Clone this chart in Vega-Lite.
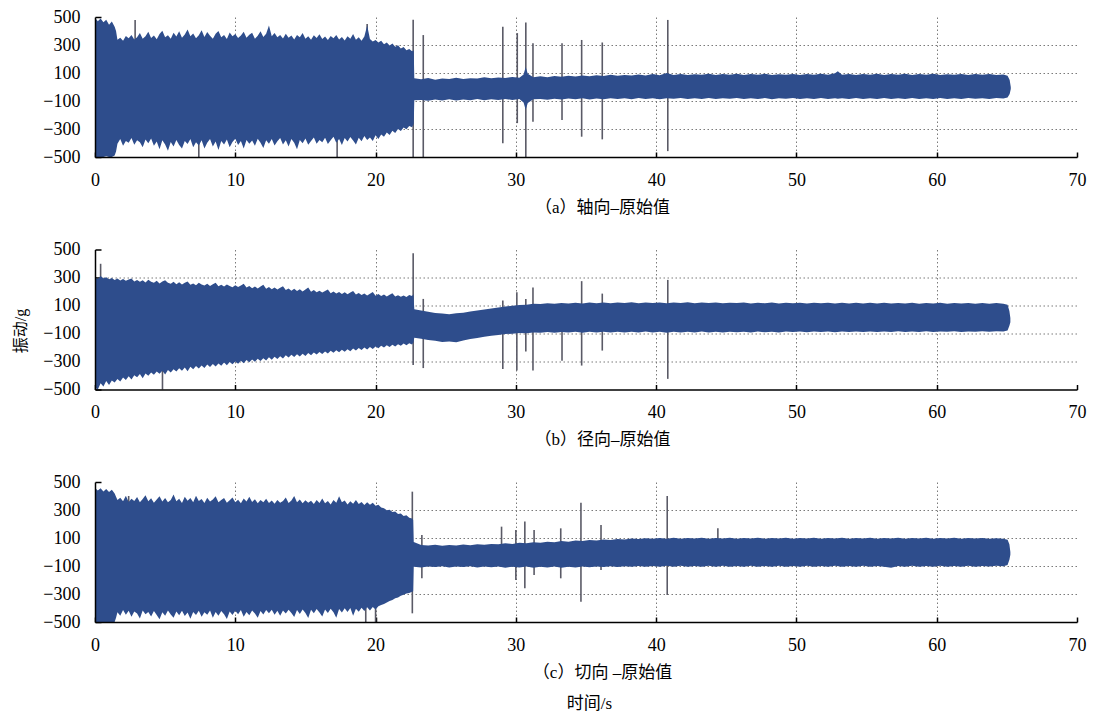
{
"$schema": "https://vega.github.io/schema/vega-lite/v6.json",
"background": "white",
"padding": {"left": 12, "top": 8, "right": 8, "bottom": 5},
"bounds": "flush",
"spacing": 92.5,
"title": {"text": "时间/s", "orient": "bottom", "anchor": "middle", "font": "Liberation Serif, Noto Sans CJK SC", "fontSize": 17, "fontWeight": "normal", "color": "#000", "offset": 16, "dx": 40},
"config": {
  "view": {"stroke": null},
  "font": "Liberation Serif, Noto Sans CJK SC",
  "axis": {
    "labelFont": "Liberation Serif, Noto Sans CJK SC",
    "labelFontSize": 18,
    "labelColor": "#000",
    "labelFlush": false,
    "titleFont": "Liberation Serif, Noto Sans CJK SC",
    "titleFontSize": 17,
    "titleFontWeight": "normal",
    "titleColor": "#000",
    "domainColor": "#000",
    "domainWidth": 1.5,
    "tickColor": "#000",
    "tickWidth": 1.5,
    "gridColor": "#7a7a7a",
    "gridDash": [1.5, 2.5],
    "gridWidth": 1
  }
},
"datasets": {
"A": [
{"t":0,"h":495,"l":-500},{"t":0.2,"h":470,"l":-500},{"t":0.4,"h":490,"l":-500},{"t":0.6,"h":462,"l":-500},{"t":0.8,"h":480,"l":-495},{"t":1.0,"h":445,"l":-500},{"t":1.2,"h":468,"l":-500},{"t":1.4,"h":430,"l":-490},{"t":1.5,"h":400,"l":-460},
{"t":1.6,"h":338,"l":-405},{"t":1.8,"h":352,"l":-372},{"t":2.0,"h":330,"l":-420},{"t":2.2,"h":365,"l":-385},{"t":2.4,"h":348,"l":-398},{"t":2.6,"h":372,"l":-365},{"t":2.8,"h":340,"l":-412},{"t":3.0,"h":355,"l":-380},{"t":3.2,"h":385,"l":-395},{"t":3.4,"h":344,"l":-430},{"t":3.6,"h":362,"l":-375},{"t":3.8,"h":395,"l":-402},{"t":4.0,"h":350,"l":-368},{"t":4.2,"h":368,"l":-420},{"t":4.4,"h":341,"l":-390},{"t":4.6,"h":378,"l":-445},{"t":4.8,"h":402,"l":-380},{"t":5.0,"h":356,"l":-410},{"t":5.2,"h":370,"l":-455},{"t":5.4,"h":345,"l":-392},{"t":5.6,"h":388,"l":-425},{"t":5.8,"h":360,"l":-378},{"t":6.0,"h":398,"l":-415},{"t":6.2,"h":352,"l":-440},{"t":6.4,"h":375,"l":-385},{"t":6.6,"h":410,"l":-408},{"t":6.8,"h":362,"l":-372},{"t":7.0,"h":383,"l":-430},{"t":7.2,"h":348,"l":-395},{"t":7.4,"h":370,"l":-418},{"t":7.6,"h":405,"l":-380},{"t":7.8,"h":358,"l":-440},{"t":8.0,"h":392,"l":-398},{"t":8.2,"h":366,"l":-372},{"t":8.4,"h":345,"l":-425},{"t":8.6,"h":380,"l":-390},{"t":8.8,"h":400,"l":-450},{"t":9.0,"h":356,"l":-385},{"t":9.2,"h":372,"l":-410},{"t":9.4,"h":342,"l":-375},{"t":9.6,"h":390,"l":-430},{"t":9.8,"h":362,"l":-392},{"t":10.0,"h":378,"l":-370},{"t":10.2,"h":350,"l":-415},{"t":10.4,"h":368,"l":-385},{"t":10.6,"h":395,"l":-440},{"t":10.8,"h":352,"l":-378},{"t":11.0,"h":374,"l":-405},{"t":11.2,"h":388,"l":-382},{"t":11.4,"h":345,"l":-420},{"t":11.6,"h":366,"l":-370},{"t":11.8,"h":398,"l":-398},{"t":12.0,"h":358,"l":-435},{"t":12.2,"h":380,"l":-380},{"t":12.4,"h":440,"l":-405},{"t":12.6,"h":362,"l":-372},{"t":12.8,"h":385,"l":-418},{"t":13.0,"h":355,"l":-388},{"t":13.2,"h":372,"l":-365},{"t":13.4,"h":346,"l":-410},{"t":13.6,"h":380,"l":-380},{"t":13.8,"h":352,"l":-425},{"t":14.0,"h":368,"l":-372},{"t":14.2,"h":340,"l":-398},{"t":14.4,"h":372,"l":-445},{"t":14.6,"h":355,"l":-378},{"t":14.8,"h":385,"l":-402},{"t":15.0,"h":345,"l":-368},{"t":15.2,"h":362,"l":-412},{"t":15.4,"h":338,"l":-385},{"t":15.6,"h":370,"l":-360},{"t":15.8,"h":350,"l":-405},{"t":16.0,"h":376,"l":-378},{"t":16.2,"h":342,"l":-395},{"t":16.4,"h":360,"l":-362},{"t":16.6,"h":335,"l":-408},{"t":16.8,"h":365,"l":-380},{"t":17.0,"h":348,"l":-355},{"t":17.2,"h":372,"l":-398},{"t":17.4,"h":340,"l":-372},{"t":17.6,"h":358,"l":-415},{"t":17.8,"h":332,"l":-365},{"t":18.0,"h":362,"l":-390},{"t":18.2,"h":345,"l":-358},{"t":18.4,"h":378,"l":-382},{"t":18.6,"h":338,"l":-410},{"t":18.8,"h":355,"l":-362},{"t":19.0,"h":330,"l":-388},{"t":19.2,"h":360,"l":-350},{"t":19.4,"h":440,"l":-378},{"t":19.6,"h":342,"l":-360},{"t":19.8,"h":325,"l":-385},{"t":20.0,"h":335,"l":-345},{"t":20.2,"h":318,"l":-372},{"t":20.4,"h":330,"l":-340},{"t":20.6,"h":305,"l":-355},{"t":20.8,"h":318,"l":-325},{"t":21.0,"h":296,"l":-342},{"t":21.2,"h":310,"l":-312},{"t":21.4,"h":288,"l":-328},{"t":21.6,"h":298,"l":-300},{"t":21.8,"h":275,"l":-315},{"t":22.0,"h":285,"l":-290},{"t":22.2,"h":262,"l":-302},{"t":22.4,"h":272,"l":-278},{"t":22.6,"h":255,"l":-288},{"t":22.72,"h":262,"l":-262},
{"t":22.76,"h":62,"l":-95},{"t":23.25,"h":55,"l":-92},{"t":23.75,"h":64,"l":-99},{"t":24.25,"h":52,"l":-90},{"t":24.75,"h":60,"l":-96},{"t":25.25,"h":57,"l":-88},{"t":25.75,"h":66,"l":-97},{"t":26.25,"h":58,"l":-90},{"t":26.75,"h":63,"l":-94},{"t":27.25,"h":60,"l":-86},{"t":27.75,"h":70,"l":-95},{"t":28.25,"h":62,"l":-88},{"t":28.75,"h":68,"l":-92},{"t":29.25,"h":64,"l":-85},{"t":29.75,"h":72,"l":-93},{"t":30.25,"h":66,"l":-86},{"t":30.55,"h":90,"l":-110},{"t":30.7,"h":142,"l":-162},{"t":30.85,"h":95,"l":-115},{"t":31.25,"h":70,"l":-88},{"t":31.75,"h":76,"l":-85},{"t":32.25,"h":70,"l":-91},{"t":32.75,"h":79,"l":-84},{"t":33.25,"h":73,"l":-89},{"t":33.75,"h":81,"l":-83},{"t":34.25,"h":75,"l":-88},{"t":34.75,"h":83,"l":-81},{"t":35.25,"h":77,"l":-89},{"t":35.75,"h":84,"l":-82},{"t":36.25,"h":79,"l":-87},{"t":36.75,"h":88,"l":-80},{"t":37.25,"h":80,"l":-86},{"t":37.75,"h":86,"l":-81},{"t":38.25,"h":82,"l":-88},{"t":38.75,"h":90,"l":-79},{"t":39.25,"h":83,"l":-85},{"t":39.75,"h":92,"l":-81},{"t":40.25,"h":84,"l":-87},{"t":40.75,"h":100,"l":-80},{"t":41.25,"h":86,"l":-84},{"t":41.75,"h":93,"l":-79},{"t":42.25,"h":85,"l":-86},{"t":42.75,"h":91,"l":-80},{"t":43.25,"h":87,"l":-85},{"t":43.75,"h":94,"l":-79},{"t":44.25,"h":86,"l":-86},{"t":44.75,"h":92,"l":-80},{"t":45.25,"h":88,"l":-84},{"t":45.75,"h":95,"l":-79},{"t":46.25,"h":86,"l":-86},{"t":46.75,"h":92,"l":-81},{"t":47.25,"h":88,"l":-85},{"t":47.75,"h":94,"l":-79},{"t":48.25,"h":86,"l":-87},{"t":48.75,"h":91,"l":-80},{"t":49.25,"h":87,"l":-84},{"t":49.75,"h":93,"l":-79},{"t":50.25,"h":86,"l":-86},{"t":50.75,"h":92,"l":-80},{"t":51.25,"h":88,"l":-85},{"t":51.75,"h":94,"l":-79},{"t":52.25,"h":87,"l":-86},{"t":52.75,"h":98,"l":-81},{"t":52.95,"h":112,"l":-84},{"t":53.25,"h":88,"l":-80},{"t":53.75,"h":93,"l":-86},{"t":54.25,"h":86,"l":-79},{"t":54.75,"h":92,"l":-85},{"t":55.25,"h":87,"l":-80},{"t":55.75,"h":94,"l":-86},{"t":56.25,"h":86,"l":-79},{"t":56.75,"h":92,"l":-85},{"t":57.25,"h":88,"l":-80},{"t":57.75,"h":95,"l":-86},{"t":58.25,"h":86,"l":-79},{"t":58.75,"h":92,"l":-85},{"t":59.25,"h":87,"l":-80},{"t":59.75,"h":94,"l":-86},{"t":60.25,"h":86,"l":-79},{"t":60.75,"h":91,"l":-85},{"t":61.25,"h":88,"l":-80},{"t":61.75,"h":93,"l":-86},{"t":62.25,"h":86,"l":-79},{"t":62.75,"h":92,"l":-84},{"t":63.25,"h":87,"l":-80},{"t":63.75,"h":92,"l":-85},{"t":64.25,"h":86,"l":-79},{"t":64.75,"h":90,"l":-83},{"t":65.05,"h":80,"l":-75},{"t":65.2,"h":50,"l":-50},{"t":65.28,"h":0,"l":-15}
],
"B": [
{"t":0,"h":300,"l":-485},{"t":0.2,"h":290,"l":-500},{"t":0.4,"h":310,"l":-455},{"t":0.6,"h":295,"l":-478},{"t":0.8,"h":302,"l":-440},{"t":1.0,"h":288,"l":-468},{"t":1.2,"h":296,"l":-435},{"t":1.4,"h":282,"l":-450},{"t":1.6,"h":292,"l":-425},{"t":1.8,"h":278,"l":-442},{"t":2.0,"h":290,"l":-415},{"t":2.2,"h":276,"l":-432},{"t":2.4,"h":285,"l":-405},{"t":2.6,"h":292,"l":-428},{"t":2.8,"h":272,"l":-398},{"t":3.0,"h":283,"l":-412},{"t":3.2,"h":270,"l":-390},{"t":3.4,"h":280,"l":-420},{"t":3.6,"h":265,"l":-385},{"t":3.8,"h":284,"l":-402},{"t":4.0,"h":270,"l":-378},{"t":4.2,"h":262,"l":-395},{"t":4.4,"h":276,"l":-372},{"t":4.6,"h":258,"l":-388},{"t":4.8,"h":271,"l":-366},{"t":5.0,"h":280,"l":-392},{"t":5.2,"h":262,"l":-360},{"t":5.4,"h":255,"l":-378},{"t":5.6,"h":270,"l":-355},{"t":5.8,"h":252,"l":-372},{"t":6.0,"h":266,"l":-348},{"t":6.2,"h":250,"l":-366},{"t":6.4,"h":262,"l":-342},{"t":6.6,"h":272,"l":-370},{"t":6.8,"h":248,"l":-338},{"t":7.0,"h":258,"l":-355},{"t":7.2,"h":245,"l":-332},{"t":7.4,"h":262,"l":-350},{"t":7.6,"h":250,"l":-328},{"t":7.8,"h":242,"l":-346},{"t":8.0,"h":256,"l":-322},{"t":8.2,"h":240,"l":-340},{"t":8.4,"h":252,"l":-318},{"t":8.6,"h":262,"l":-335},{"t":8.8,"h":238,"l":-314},{"t":9.0,"h":248,"l":-330},{"t":9.2,"h":235,"l":-308},{"t":9.4,"h":250,"l":-326},{"t":9.6,"h":240,"l":-304},{"t":9.8,"h":230,"l":-320},{"t":10.0,"h":245,"l":-300},{"t":10.2,"h":232,"l":-316},{"t":10.4,"h":242,"l":-295},{"t":10.6,"h":255,"l":-312},{"t":10.8,"h":228,"l":-290},{"t":11.0,"h":240,"l":-306},{"t":11.2,"h":224,"l":-285},{"t":11.4,"h":236,"l":-302},{"t":11.6,"h":222,"l":-280},{"t":11.8,"h":235,"l":-296},{"t":12.0,"h":248,"l":-276},{"t":12.2,"h":220,"l":-292},{"t":12.4,"h":232,"l":-270},{"t":12.6,"h":216,"l":-288},{"t":12.8,"h":228,"l":-266},{"t":13.0,"h":214,"l":-282},{"t":13.2,"h":226,"l":-262},{"t":13.4,"h":238,"l":-278},{"t":13.6,"h":210,"l":-256},{"t":13.8,"h":222,"l":-272},{"t":14.0,"h":206,"l":-252},{"t":14.2,"h":220,"l":-268},{"t":14.4,"h":204,"l":-248},{"t":14.6,"h":216,"l":-264},{"t":14.8,"h":200,"l":-244},{"t":15.0,"h":214,"l":-260},{"t":15.2,"h":228,"l":-240},{"t":15.4,"h":198,"l":-255},{"t":15.6,"h":210,"l":-236},{"t":15.8,"h":194,"l":-250},{"t":16.0,"h":206,"l":-232},{"t":16.2,"h":192,"l":-246},{"t":16.4,"h":204,"l":-228},{"t":16.6,"h":214,"l":-242},{"t":16.8,"h":188,"l":-224},{"t":17.0,"h":200,"l":-238},{"t":17.2,"h":185,"l":-220},{"t":17.4,"h":196,"l":-234},{"t":17.6,"h":182,"l":-216},{"t":17.8,"h":194,"l":-230},{"t":18.0,"h":180,"l":-212},{"t":18.2,"h":192,"l":-226},{"t":18.4,"h":204,"l":-208},{"t":18.6,"h":178,"l":-222},{"t":18.8,"h":190,"l":-204},{"t":19.0,"h":175,"l":-218},{"t":19.2,"h":186,"l":-200},{"t":19.4,"h":172,"l":-214},{"t":19.6,"h":184,"l":-196},{"t":19.8,"h":196,"l":-210},{"t":20.0,"h":170,"l":-192},{"t":20.2,"h":182,"l":-205},{"t":20.4,"h":168,"l":-188},{"t":20.6,"h":178,"l":-200},{"t":20.8,"h":165,"l":-184},{"t":21.0,"h":176,"l":-196},{"t":21.2,"h":188,"l":-180},{"t":21.4,"h":164,"l":-192},{"t":21.6,"h":174,"l":-176},{"t":21.8,"h":162,"l":-188},{"t":22.0,"h":172,"l":-172},{"t":22.2,"h":160,"l":-184},{"t":22.4,"h":175,"l":-170},{"t":22.6,"h":168,"l":-178},{"t":22.7,"h":182,"l":-165},
{"t":22.76,"h":74,"l":-130},{"t":23.25,"h":64,"l":-138},{"t":23.75,"h":56,"l":-146},{"t":24.25,"h":46,"l":-152},{"t":24.75,"h":42,"l":-160},{"t":25.25,"h":38,"l":-158},{"t":25.75,"h":45,"l":-162},{"t":26.25,"h":48,"l":-150},{"t":26.75,"h":58,"l":-140},{"t":27.25,"h":64,"l":-132},{"t":27.75,"h":72,"l":-124},{"t":28.25,"h":78,"l":-116},{"t":28.75,"h":86,"l":-110},{"t":29.25,"h":92,"l":-104},{"t":29.75,"h":98,"l":-101},{"t":30.25,"h":104,"l":-96},{"t":30.75,"h":106,"l":-98},{"t":31.25,"h":112,"l":-92},{"t":31.75,"h":110,"l":-95},{"t":32.25,"h":116,"l":-90},{"t":32.75,"h":112,"l":-94},{"t":33.25,"h":118,"l":-89},{"t":33.75,"h":114,"l":-93},{"t":34.25,"h":120,"l":-88},{"t":34.75,"h":115,"l":-94},{"t":35.25,"h":121,"l":-87},{"t":35.75,"h":116,"l":-92},{"t":36.25,"h":122,"l":-88},{"t":36.75,"h":116,"l":-93},{"t":37.25,"h":121,"l":-87},{"t":37.75,"h":117,"l":-92},{"t":38.25,"h":123,"l":-88},{"t":38.75,"h":116,"l":-93},{"t":39.25,"h":121,"l":-86},{"t":39.75,"h":117,"l":-92},{"t":40.25,"h":122,"l":-88},{"t":40.75,"h":116,"l":-94},{"t":41.25,"h":121,"l":-87},{"t":41.75,"h":117,"l":-92},{"t":42.25,"h":123,"l":-88},{"t":42.75,"h":116,"l":-93},{"t":43.25,"h":121,"l":-86},{"t":43.75,"h":117,"l":-92},{"t":44.25,"h":122,"l":-88},{"t":44.75,"h":116,"l":-93},{"t":45.25,"h":120,"l":-87},{"t":45.75,"h":117,"l":-91},{"t":46.25,"h":122,"l":-88},{"t":46.75,"h":115,"l":-92},{"t":47.25,"h":120,"l":-86},{"t":47.75,"h":116,"l":-91},{"t":48.25,"h":121,"l":-87},{"t":48.75,"h":115,"l":-92},{"t":49.25,"h":120,"l":-86},{"t":49.75,"h":116,"l":-90},{"t":50.25,"h":120,"l":-86},{"t":50.75,"h":115,"l":-91},{"t":51.25,"h":119,"l":-85},{"t":51.75,"h":116,"l":-90},{"t":52.25,"h":120,"l":-86},{"t":52.75,"h":114,"l":-91},{"t":53.25,"h":119,"l":-85},{"t":53.75,"h":115,"l":-90},{"t":54.25,"h":120,"l":-86},{"t":54.75,"h":114,"l":-90},{"t":55.25,"h":119,"l":-85},{"t":55.75,"h":115,"l":-89},{"t":56.25,"h":119,"l":-85},{"t":56.75,"h":114,"l":-90},{"t":57.25,"h":118,"l":-84},{"t":57.75,"h":114,"l":-89},{"t":58.25,"h":119,"l":-85},{"t":58.75,"h":113,"l":-89},{"t":59.25,"h":118,"l":-84},{"t":59.75,"h":114,"l":-89},{"t":60.25,"h":119,"l":-85},{"t":60.75,"h":113,"l":-88},{"t":61.25,"h":118,"l":-84},{"t":61.75,"h":114,"l":-89},{"t":62.25,"h":118,"l":-85},{"t":62.75,"h":113,"l":-88},{"t":63.25,"h":117,"l":-84},{"t":63.75,"h":113,"l":-88},{"t":64.25,"h":117,"l":-84},{"t":64.75,"h":112,"l":-86},{"t":65.05,"h":105,"l":-78},{"t":65.18,"h":60,"l":-45},{"t":65.25,"h":10,"l":-20}
],
"C": [
{"t":0,"h":458,"l":-500},{"t":0.2,"h":440,"l":-500},{"t":0.4,"h":455,"l":-500},{"t":0.6,"h":432,"l":-500},{"t":0.8,"h":450,"l":-500},{"t":1.0,"h":428,"l":-500},{"t":1.2,"h":445,"l":-500},{"t":1.4,"h":418,"l":-500},{"t":1.5,"h":395,"l":-470},
{"t":1.6,"h":372,"l":-430},{"t":1.8,"h":388,"l":-455},{"t":2.0,"h":362,"l":-415},{"t":2.2,"h":402,"l":-448},{"t":2.4,"h":358,"l":-420},{"t":2.6,"h":380,"l":-462},{"t":2.8,"h":365,"l":-425},{"t":3.0,"h":392,"l":-440},{"t":3.2,"h":356,"l":-475},{"t":3.4,"h":378,"l":-418},{"t":3.6,"h":405,"l":-445},{"t":3.8,"h":362,"l":-428},{"t":4.0,"h":384,"l":-460},{"t":4.2,"h":352,"l":-422},{"t":4.4,"h":375,"l":-450},{"t":4.6,"h":398,"l":-480},{"t":4.8,"h":360,"l":-430},{"t":5.0,"h":386,"l":-455},{"t":5.2,"h":355,"l":-418},{"t":5.4,"h":372,"l":-446},{"t":5.6,"h":410,"l":-470},{"t":5.8,"h":362,"l":-425},{"t":6.0,"h":380,"l":-452},{"t":6.2,"h":350,"l":-420},{"t":6.4,"h":395,"l":-458},{"t":6.6,"h":366,"l":-432},{"t":6.8,"h":385,"l":-476},{"t":7.0,"h":356,"l":-428},{"t":7.2,"h":402,"l":-450},{"t":7.4,"h":365,"l":-420},{"t":7.6,"h":378,"l":-462},{"t":7.8,"h":350,"l":-430},{"t":8.0,"h":388,"l":-448},{"t":8.2,"h":360,"l":-418},{"t":8.4,"h":375,"l":-470},{"t":8.6,"h":398,"l":-428},{"t":8.8,"h":355,"l":-455},{"t":9.0,"h":372,"l":-422},{"t":9.2,"h":386,"l":-445},{"t":9.4,"h":352,"l":-478},{"t":9.6,"h":370,"l":-425},{"t":9.8,"h":390,"l":-450},{"t":10.0,"h":356,"l":-420},{"t":10.2,"h":374,"l":-445},{"t":10.4,"h":348,"l":-415},{"t":10.6,"h":382,"l":-462},{"t":10.8,"h":360,"l":-428},{"t":11.0,"h":395,"l":-452},{"t":11.2,"h":358,"l":-418},{"t":11.4,"h":376,"l":-440},{"t":11.6,"h":348,"l":-470},{"t":11.8,"h":372,"l":-422},{"t":12.0,"h":355,"l":-446},{"t":12.2,"h":380,"l":-415},{"t":12.4,"h":350,"l":-438},{"t":12.6,"h":368,"l":-412},{"t":12.8,"h":345,"l":-448},{"t":13.0,"h":372,"l":-420},{"t":13.2,"h":352,"l":-455},{"t":13.4,"h":365,"l":-418},{"t":13.6,"h":390,"l":-440},{"t":13.8,"h":350,"l":-412},{"t":14.0,"h":368,"l":-436},{"t":14.2,"h":400,"l":-465},{"t":14.4,"h":356,"l":-415},{"t":14.6,"h":375,"l":-442},{"t":14.8,"h":348,"l":-410},{"t":15.0,"h":370,"l":-435},{"t":15.2,"h":352,"l":-472},{"t":15.4,"h":366,"l":-412},{"t":15.6,"h":342,"l":-438},{"t":15.8,"h":372,"l":-408},{"t":16.0,"h":350,"l":-432},{"t":16.2,"h":382,"l":-460},{"t":16.4,"h":348,"l":-410},{"t":16.6,"h":365,"l":-436},{"t":16.8,"h":340,"l":-405},{"t":17.0,"h":372,"l":-430},{"t":17.2,"h":352,"l":-470},{"t":17.4,"h":398,"l":-408},{"t":17.6,"h":355,"l":-432},{"t":17.8,"h":368,"l":-402},{"t":18.0,"h":340,"l":-428},{"t":18.2,"h":362,"l":-400},{"t":18.4,"h":345,"l":-455},{"t":18.6,"h":372,"l":-405},{"t":18.8,"h":342,"l":-426},{"t":19.0,"h":358,"l":-398},{"t":19.2,"h":336,"l":-422},{"t":19.4,"h":355,"l":-395},{"t":19.6,"h":338,"l":-418},{"t":19.8,"h":352,"l":-392},{"t":20.0,"h":330,"l":-410},{"t":20.2,"h":338,"l":-388},{"t":20.4,"h":318,"l":-378},{"t":20.6,"h":312,"l":-372},{"t":20.8,"h":298,"l":-360},{"t":21.0,"h":302,"l":-350},{"t":21.2,"h":286,"l":-342},{"t":21.4,"h":290,"l":-330},{"t":21.6,"h":272,"l":-325},{"t":21.8,"h":275,"l":-312},{"t":22.0,"h":258,"l":-306},{"t":22.2,"h":262,"l":-296},{"t":22.4,"h":245,"l":-292},{"t":22.6,"h":240,"l":-284},{"t":22.68,"h":228,"l":-280},
{"t":22.72,"h":72,"l":-105},{"t":23.25,"h":50,"l":-110},{"t":23.75,"h":46,"l":-103},{"t":24.25,"h":52,"l":-108},{"t":24.75,"h":45,"l":-101},{"t":25.25,"h":50,"l":-110},{"t":25.75,"h":47,"l":-104},{"t":26.25,"h":53,"l":-108},{"t":26.75,"h":49,"l":-102},{"t":27.25,"h":56,"l":-111},{"t":27.75,"h":52,"l":-104},{"t":28.25,"h":58,"l":-109},{"t":28.75,"h":55,"l":-103},{"t":29.25,"h":62,"l":-112},{"t":29.75,"h":58,"l":-105},{"t":30.25,"h":66,"l":-110},{"t":30.75,"h":62,"l":-104},{"t":31.25,"h":70,"l":-113},{"t":31.75,"h":66,"l":-106},{"t":32.25,"h":74,"l":-110},{"t":32.75,"h":70,"l":-104},{"t":33.25,"h":78,"l":-112},{"t":33.75,"h":74,"l":-106},{"t":34.25,"h":82,"l":-110},{"t":34.75,"h":78,"l":-103},{"t":35.25,"h":86,"l":-109},{"t":35.75,"h":82,"l":-104},{"t":36.25,"h":90,"l":-108},{"t":36.75,"h":86,"l":-102},{"t":37.25,"h":93,"l":-107},{"t":37.75,"h":89,"l":-101},{"t":38.25,"h":97,"l":-106},{"t":38.75,"h":92,"l":-100},{"t":39.25,"h":99,"l":-105},{"t":39.75,"h":94,"l":-100},{"t":40.25,"h":100,"l":-106},{"t":40.75,"h":95,"l":-99},{"t":41.25,"h":101,"l":-105},{"t":41.75,"h":95,"l":-99},{"t":42.25,"h":100,"l":-106},{"t":42.75,"h":96,"l":-100},{"t":43.25,"h":102,"l":-105},{"t":43.75,"h":95,"l":-99},{"t":44.25,"h":100,"l":-106},{"t":44.75,"h":96,"l":-99},{"t":45.25,"h":101,"l":-105},{"t":45.75,"h":95,"l":-100},{"t":46.25,"h":100,"l":-106},{"t":46.75,"h":96,"l":-99},{"t":47.25,"h":102,"l":-105},{"t":47.75,"h":95,"l":-100},{"t":48.25,"h":100,"l":-106},{"t":48.75,"h":96,"l":-99},{"t":49.25,"h":101,"l":-105},{"t":49.75,"h":95,"l":-100},{"t":50.25,"h":100,"l":-106},{"t":50.75,"h":96,"l":-99},{"t":51.25,"h":101,"l":-105},{"t":51.75,"h":95,"l":-100},{"t":52.25,"h":100,"l":-106},{"t":52.75,"h":96,"l":-99},{"t":53.25,"h":102,"l":-105},{"t":53.75,"h":95,"l":-100},{"t":54.25,"h":100,"l":-106},{"t":54.75,"h":96,"l":-99},{"t":55.25,"h":101,"l":-105},{"t":55.75,"h":95,"l":-100},{"t":56.25,"h":100,"l":-106},{"t":56.75,"h":96,"l":-112},{"t":57.25,"h":101,"l":-100},{"t":57.75,"h":95,"l":-105},{"t":58.25,"h":100,"l":-99},{"t":58.75,"h":96,"l":-106},{"t":59.25,"h":101,"l":-100},{"t":59.75,"h":95,"l":-105},{"t":60.25,"h":100,"l":-99},{"t":60.75,"h":96,"l":-106},{"t":61.25,"h":101,"l":-100},{"t":61.75,"h":95,"l":-105},{"t":62.25,"h":100,"l":-99},{"t":62.75,"h":96,"l":-105},{"t":63.25,"h":100,"l":-100},{"t":63.75,"h":95,"l":-104},{"t":64.25,"h":99,"l":-99},{"t":64.75,"h":94,"l":-102},{"t":65.05,"h":88,"l":-92},{"t":65.18,"h":55,"l":-55},{"t":65.25,"h":0,"l":-20}
],
"sA": [
{"t":2.86,"y1":330,"y2":479},{"t":7.4,"y1":-380,"y2":-500},{"t":17.26,"y1":-380,"y2":-500},{"t":19.4,"y1":300,"y2":450},{"t":22.68,"y1":480,"y2":-500},{"t":23.4,"y1":371,"y2":-500},{"t":29.07,"y1":430,"y2":-402},{"t":30.1,"y1":385,"y2":-258},{"t":30.71,"y1":460,"y2":-500},{"t":31.22,"y1":312,"y2":-248},{"t":33.29,"y1":312,"y2":-236},{"t":34.69,"y1":336,"y2":-355},{"t":36.16,"y1":318,"y2":-374},{"t":40.83,"y1":479,"y2":-458}
],
"sB": [
{"t":0.4,"y1":200,"y2":398},{"t":4.81,"y1":-300,"y2":-500},{"t":22.68,"y1":474,"y2":-325},{"t":23.4,"y1":147,"y2":-347},{"t":29.07,"y1":135,"y2":-353},{"t":30.07,"y1":195,"y2":-364},{"t":30.71,"y1":146,"y2":-228},{"t":31.22,"y1":228,"y2":-365},{"t":33.29,"y1":60,"y2":-295},{"t":34.69,"y1":274,"y2":-329},{"t":36.16,"y1":185,"y2":-222},{"t":40.83,"y1":283,"y2":-424}
],
"sC": [
{"t":2.4,"y1":330,"y2":400},{"t":19.3,"y1":-400,"y2":-500},{"t":20.0,"y1":-400,"y2":-500},{"t":22.62,"y1":431,"y2":-438},{"t":23.3,"y1":121,"y2":-188},{"t":28.98,"y1":181,"y2":50},{"t":30.0,"y1":157,"y2":-200},{"t":30.64,"y1":217,"y2":-259},{"t":31.3,"y1":157,"y2":-164},{"t":33.2,"y1":169,"y2":-188},{"t":34.64,"y1":352,"y2":-355},{"t":36.07,"y1":193,"y2":-129},{"t":40.79,"y1":400,"y2":-307},{"t":44.4,"y1":169,"y2":80}
]
},
"vconcat": [
{
 "width": 982, "height": 140,
 "resolve": {"axis": {"x": "independent", "y": "independent"}},
 "layer": [
  {"data": {"name": "sA"}, "mark": {"type": "rule", "color": "#5a5a66", "strokeWidth": 1.6},
   "encoding": {
    "x": {"field": "t", "type": "quantitative", "scale": {"domain": [0, 70], "nice": false, "zero": false},
          "axis": {"orient": "bottom", "values": [0,10,20,30,40,50,60,70], "grid": true, "gridOpacity": {"condition": {"test": "datum.value == 0 || datum.value == 70", "value": 0}, "value": 1}, "domain": false, "labels": false, "ticks": true, "tickSize": -5, "title": null, "zindex": 0}},
    "y": {"field": "y1", "type": "quantitative", "scale": {"domain": [-500, 500], "nice": false, "zero": false},
          "axis": {"orient": "left", "values": [-500,-300,-100,100,300,500], "grid": true, "gridOpacity": {"condition": {"test": "abs(datum.value) == 500", "value": 0}, "value": 1}, "domain": false, "labels": false, "ticks": true, "tickSize": -6, "title": null, "zindex": 0}},
    "y2": {"field": "y2"}
   }},
  {"data": {"name": "A"}, "mark": {"type": "area", "color": "#2E4D8C", "opacity": 1},
   "encoding": {
    "x": {"field": "t", "type": "quantitative", "axis": {"orient": "bottom", "values": [0,10,20,30,40,50,60,70], "grid": false, "ticks": false, "labelPadding": 14, "title": "（a）轴向–原始值", "titlePadding": 10, "titleX": 507, "zindex": 1}},
    "y": {"field": "h", "type": "quantitative", "axis": {"orient": "left", "values": [-500,-300,-100,100,300,500], "grid": false, "ticks": false, "labelPadding": 15, "title": null, "zindex": 1}},
    "y2": {"field": "l"}
   }}
 ]
},
{
 "width": 982, "height": 140,
 "resolve": {"axis": {"x": "independent", "y": "independent"}},
 "layer": [
  {"data": {"name": "sB"}, "mark": {"type": "rule", "color": "#5a5a66", "strokeWidth": 1.6},
   "encoding": {
    "x": {"field": "t", "type": "quantitative", "scale": {"domain": [0, 70], "nice": false, "zero": false},
          "axis": {"orient": "bottom", "values": [0,10,20,30,40,50,60,70], "grid": true, "gridOpacity": {"condition": {"test": "datum.value == 0 || datum.value == 70", "value": 0}, "value": 1}, "domain": false, "labels": false, "ticks": true, "tickSize": -5, "title": null, "zindex": 0}},
    "y": {"field": "y1", "type": "quantitative", "scale": {"domain": [-500, 500], "nice": false, "zero": false},
          "axis": {"orient": "left", "values": [-500,-300,-100,100,300,500], "grid": true, "gridOpacity": {"condition": {"test": "abs(datum.value) == 500", "value": 0}, "value": 1}, "domain": false, "labels": false, "ticks": true, "tickSize": -6, "title": null, "zindex": 0}},
    "y2": {"field": "y2"}
   }},
  {"data": {"name": "B"}, "mark": {"type": "area", "color": "#2E4D8C", "opacity": 1},
   "encoding": {
    "x": {"field": "t", "type": "quantitative", "axis": {"orient": "bottom", "values": [0,10,20,30,40,50,60,70], "grid": false, "ticks": false, "labelPadding": 14, "title": "（b）径向–原始值", "titlePadding": 10, "titleX": 507, "zindex": 1}},
    "y": {"field": "h", "type": "quantitative", "axis": {"orient": "left", "values": [-500,-300,-100,100,300,500], "grid": false, "ticks": false, "labelPadding": 15, "title": "振动/g", "titleFontSize": 16, "titlePadding": 14, "titleY": 81, "zindex": 1}},
    "y2": {"field": "l"}
   }}
 ]
},
{
 "width": 982, "height": 140,
 "resolve": {"axis": {"x": "independent", "y": "independent"}},
 "layer": [
  {"data": {"name": "sC"}, "mark": {"type": "rule", "color": "#5a5a66", "strokeWidth": 1.6},
   "encoding": {
    "x": {"field": "t", "type": "quantitative", "scale": {"domain": [0, 70], "nice": false, "zero": false},
          "axis": {"orient": "bottom", "values": [0,10,20,30,40,50,60,70], "grid": true, "gridOpacity": {"condition": {"test": "datum.value == 0 || datum.value == 70", "value": 0}, "value": 1}, "domain": false, "labels": false, "ticks": true, "tickSize": -5, "title": null, "zindex": 0}},
    "y": {"field": "y1", "type": "quantitative", "scale": {"domain": [-500, 500], "nice": false, "zero": false},
          "axis": {"orient": "left", "values": [-500,-300,-100,100,300,500], "grid": true, "gridOpacity": {"condition": {"test": "abs(datum.value) == 500", "value": 0}, "value": 1}, "domain": false, "labels": false, "ticks": true, "tickSize": -6, "title": null, "zindex": 0}},
    "y2": {"field": "y2"}
   }},
  {"data": {"name": "C"}, "mark": {"type": "area", "color": "#2E4D8C", "opacity": 1},
   "encoding": {
    "x": {"field": "t", "type": "quantitative", "axis": {"orient": "bottom", "values": [0,10,20,30,40,50,60,70], "grid": false, "ticks": false, "labelPadding": 14, "title": "（c）切向 –原始值", "titlePadding": 10, "titleX": 507, "zindex": 1}},
    "y": {"field": "h", "type": "quantitative", "axis": {"orient": "left", "values": [-500,-300,-100,100,300,500], "grid": false, "ticks": false, "labelPadding": 15, "title": null, "zindex": 1}},
    "y2": {"field": "l"}
   }}
 ]
}
]
}
